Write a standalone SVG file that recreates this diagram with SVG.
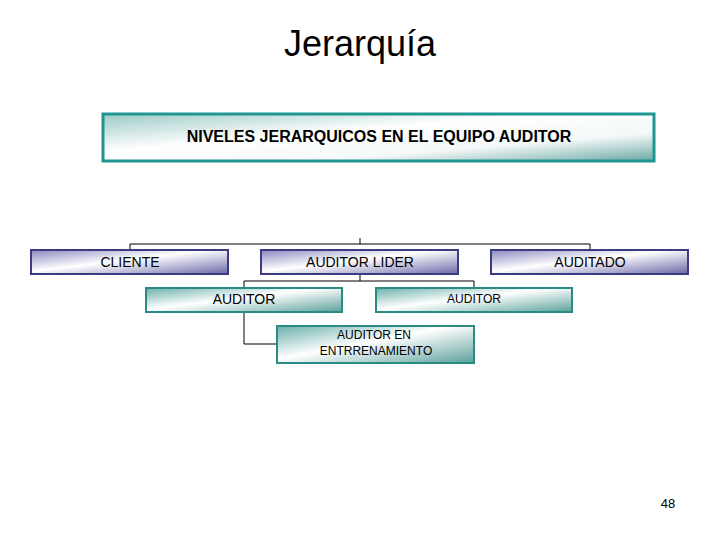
<svg xmlns="http://www.w3.org/2000/svg" width="720" height="540" viewBox="0 0 720 540">
<defs>
<linearGradient id="gb" x1="0" y1="0" x2="1" y2="1"><stop offset="0" stop-color="#8a88c0"/><stop offset="0.45" stop-color="#ffffff"/><stop offset="1" stop-color="#6a68a8"/></linearGradient>
<linearGradient id="gt" x1="0" y1="0" x2="1" y2="1"><stop offset="0" stop-color="#6ab0aa"/><stop offset="0.45" stop-color="#ffffff"/><stop offset="1" stop-color="#5aa09a"/></linearGradient>
<linearGradient id="gh" x1="0" y1="0" x2="1" y2="1"><stop offset="0" stop-color="#9ccac6"/><stop offset="0.4" stop-color="#ffffff"/><stop offset="0.7" stop-color="#f4f8f8"/><stop offset="1" stop-color="#6aa8a4"/></linearGradient>
<style>
.t{font-family:"Liberation Sans",Arial,sans-serif;fill:#000;text-anchor:middle}
.b{fill:url(#gb);stroke:#3c3a80;stroke-width:2}
.a{fill:url(#gt);stroke:#2a8a84;stroke-width:2}
.c{fill:none;stroke:#000;stroke-width:1}
</style>
</defs>
<text class="t" x="360" y="56" font-size="36">Jerarquía</text>
<g id="header"><rect x="103" y="114" width="551" height="47" fill="url(#gh)" stroke="#1f9690" stroke-width="3"/>
<text class="t" x="379" y="142" font-size="16" font-weight="bold">NIVELES JERARQUICOS EN EL EQUIPO AUDITOR</text></g>
<g id="connectors">
<path class="c" d="M360 238V244M130 250V244H590V250M360 275V281H244V287M360 281H474V287M244 312V344H277"/>
</g>
<g id="cliente"><rect class="b" x="31" y="250" width="197" height="24"/><text class="t" x="130" y="267" font-size="14">CLIENTE</text></g>
<g id="lider"><rect class="b" x="261" y="250" width="197" height="24"/><text class="t" x="360" y="267" font-size="14">AUDITOR LIDER</text></g>
<g id="auditado"><rect class="b" x="491" y="250" width="197" height="24"/><text class="t" x="590" y="267" font-size="14">AUDITADO</text></g>
<g id="auditor1"><rect class="a" x="146" y="288" width="196" height="24"/><text class="t" x="244" y="304" font-size="14">AUDITOR</text></g>
<g id="auditor2"><rect class="a" x="376" y="288" width="196" height="24"/><text class="t" x="474" y="303" font-size="12">AUDITOR</text></g>
<g id="entrenamiento"><rect class="a" x="277" y="326" width="197" height="37"/><text class="t" x="374" y="339" font-size="12">AUDITOR EN</text><text class="t" x="376" y="355" font-size="12">ENTRRENAMIENTO</text></g>
<text x="668" y="508" font-size="13" class="t">48</text>
</svg>
